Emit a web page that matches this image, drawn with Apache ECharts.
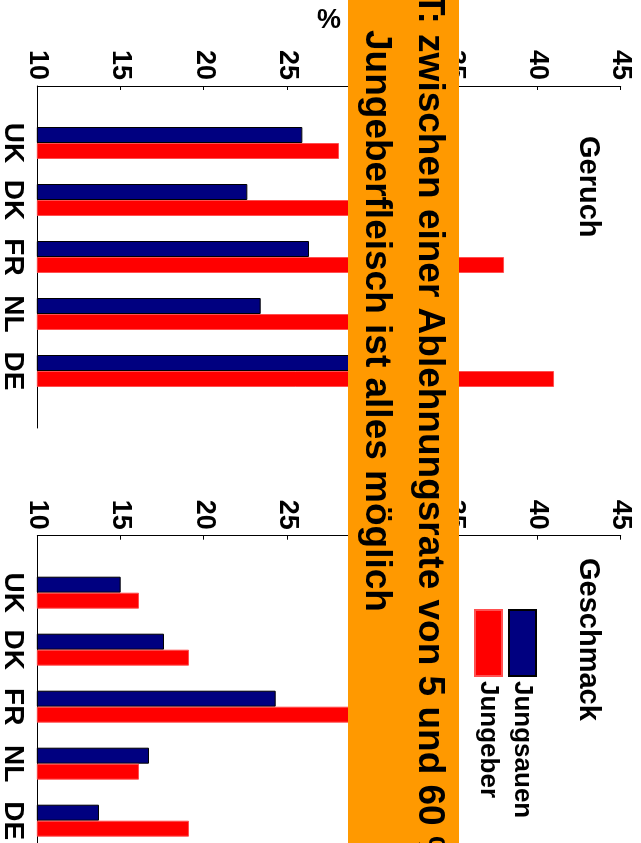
<!DOCTYPE html>
<html>
<head>
<meta charset="utf-8">
<script src="https://cdn.jsdelivr.net/npm/echarts@6/dist/echarts.min.js"></script>
<style>
html,body{margin:0;padding:0;width:641px;height:843px;overflow:hidden;background:#fff;}
#wrap{position:absolute;left:0;top:0;width:843px;height:641px;transform-origin:0 0;transform:translate(641px,0) rotate(90deg);}
#chart{width:843px;height:641px;}
</style>
</head>
<body>
<div id="wrap"><div id="chart"></div></div>
<script>
// Data
const countries = ['UK', 'DK', 'FR', 'NL', 'DE'];
const geruchJungsauen = [25.9, 22.6, 26.3, 23.4, 30.5];
const geruchJungeber = [28.1, 30.5, 38.0, 31.0, 41.0];
const geschmackJungsauen = [15.0, 17.6, 24.3, 16.7, 13.7];
const geschmackJungeber = [16.1, 19.1, 30.0, 16.1, 19.1];
const valueTicks = [10, 15, 20, 25, 30, 35, 40, 45];
const panelTitles = ['Geruch', 'Geschmack'];
const seriesNames = ['Jungsauen', 'Jungeber'];
const unitLabel = '%';
const bannerLine1 = 'T: zwischen einer Ablehnungsrate von 5 und 60 %';
const bannerLine2 = 'Jungeberfleisch ist alles möglich';

const FONT = '"Liberation Sans", Arial, Helvetica, sans-serif';
const cats = [''].concat(countries, ['']);
const pad = arr => [null].concat(arr, [null]);

const chart = echarts.init(document.getElementById('chart'), null, {renderer: 'canvas'});

function catAxis(gi) {
  return {
    type: 'category', gridIndex: gi, data: cats, boundaryGap: false,
    axisLine: {show: true, onZero: false, lineStyle: {color: '#000', width: 1}},
    axisTick: {show: false},
    axisLabel: {color: '#000', fontSize: 28, fontWeight: 'bold', fontFamily: FONT, margin: 11, interval: 0},
    splitLine: {show: false}
  };
}
function valAxis(gi, withName) {
  return {
    type: 'value', gridIndex: gi, min: valueTicks[0], max: valueTicks[valueTicks.length - 1],
    interval: valueTicks[1] - valueTicks[0],
    name: withName ? unitLabel : '', nameLocation: 'middle', nameGap: 52,
    nameTextStyle: {color: '#000', fontSize: 27, fontWeight: 'bold', fontFamily: FONT},
    axisLine: {show: true, lineStyle: {color: '#000', width: 1}},
    axisTick: {show: true, inside: true, length: 4, lineStyle: {color: '#000'}},
    axisLabel: {color: '#000', fontSize: 27, fontWeight: 'bold', fontFamily: FONT, margin: 6},
    splitLine: {show: false}
  };
}
function bar(name, gi, data, color, border) {
  return {
    name: name, type: 'bar', xAxisIndex: gi, yAxisIndex: gi, data: pad(data),
    barWidth: 16, barGap: '0%', clip: true,
    itemStyle: {color: color, borderColor: border, borderWidth: 1},
    emphasis: {disabled: true}, animation: false
  };
}

chart.setOption({
  animation: false,
  grid: [
    {left: 86, top: 20.3, width: 342, bottom: 37.3, containLabel: false, outerBoundsMode: 'none'},
    {left: 535.7, top: 20.3, width: 342, bottom: 37.3, containLabel: false, outerBoundsMode: 'none'}
  ],
  title: [
    {text: panelTitles[0], left: 131, top: 33, textStyle: {color: '#000', fontSize: 29, fontWeight: 'bold', fontFamily: FONT}},
    {text: panelTitles[1], left: 553, top: 33, textStyle: {color: '#000', fontSize: 29, fontWeight: 'bold', fontFamily: FONT}}
  ],
  legend: {
    orient: 'vertical', left: 604, top: 99, itemWidth: 66, itemHeight: 27, itemGap: 5,
    icon: 'rect', data: seriesNames,
    textStyle: {color: '#000', fontSize: 26, fontWeight: 'bold', fontFamily: FONT, lineHeight: 27},
    selectedMode: false
  },
  xAxis: [catAxis(0), catAxis(1)],
  yAxis: [valAxis(0, true), valAxis(1, false)],
  series: [
    bar(seriesNames[0], 0, geruchJungsauen, '#000080', '#000000'),
    bar(seriesNames[1], 0, geruchJungeber, '#FF0000', '#FF5050'),
    bar(seriesNames[0], 1, geschmackJungsauen, '#000080', '#000000'),
    bar(seriesNames[1], 1, geschmackJungeber, '#FF0000', '#FF5050')
  ],
  graphic: [
    {type: 'rect', z: 100, shape: {x: 0, y: 182, width: 843, height: 111}, style: {fill: '#FF9900'}},
    {type: 'text', z: 101, x: -7, y: 212, style: {text: bannerLine1, fill: '#000', font: 'bold 37px ' + FONT, textVerticalAlign: 'middle', textAlign: 'left'}},
    {type: 'text', z: 101, x: 30, y: 265, style: {text: bannerLine2, fill: '#000', font: 'bold 37px ' + FONT, textVerticalAlign: 'middle', textAlign: 'left'}}
  ]
});
</script>
</body>
</html>
